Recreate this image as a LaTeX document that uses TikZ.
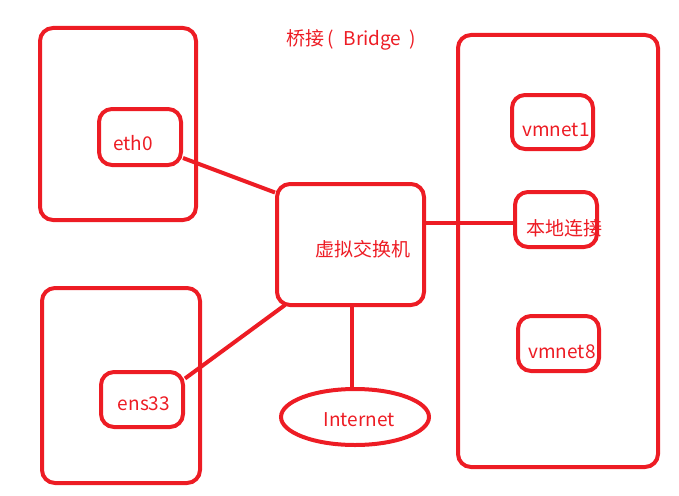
\documentclass[tikz,border=0pt]{standalone}
\usepackage{fontspec}
\newfontfamily\cjk{Noto Sans CJK SC}
\usetikzlibrary{shapes.geometric,calc}
\definecolor{pred}{RGB}{237,28,36}
\tikzset{
  box/.style={draw=pred, line width=4pt, rounded corners=13pt, inner sep=0pt},
  lbl/.style={text=pred, font=\cjk\fontsize{19}{21}\selectfont, inner sep=0pt},
  wire/.style={draw=pred, line width=4pt}
}
\begin{document}
\begin{tikzpicture}[x=1pt,y=-1pt]
\useasboundingbox (0,0) rectangle (679,495);
% outer boxes
\node[box, minimum width=156pt, minimum height=192pt] (host1) at (118,124) {};
\node[box, minimum width=158pt, minimum height=195pt] (host2) at (121,385.5) {};
\node[box, minimum width=200pt, minimum height=432pt] (vm) at (558,251) {};
% inner boxes
\node[box, minimum width=82pt, minimum height=56pt] (eth0) at (140,137) {};
\node[box, minimum width=82pt, minimum height=55pt] (ens) at (142,399.5) {};
\node[box, minimum width=147pt, minimum height=121pt] (sw) at (350.5,244.5) {};
\node[box, minimum width=81pt, minimum height=54pt] (vm1) at (552.5,122) {};
\node[box, minimum width=82pt, minimum height=55pt] (lan) at (556,219.5) {};
\node[box, minimum width=81pt, minimum height=55pt] (vm8) at (558.5,343.5) {};
\node[draw=pred, line width=4pt, ellipse, minimum width=148pt, minimum height=56pt, inner sep=0pt] (inet) at (355,417) {};
% texts
\node[lbl] (title) at (351,40) {桥接\hspace{3pt}(\hspace{10pt}Bridge\hspace{8pt})};
\node[lbl] (teth) at (133,143) {eth0};
\node[lbl] (tens) at (144,404) {ens33};
\node[lbl] (tsw) at (363,249) {虚拟交换机};
\node[lbl] (tvm1) at (556,130) {vmnet1};
\node[lbl] (tlan) at (564,228) {本地连接};
\node[lbl] (tvm8) at (562,352) {vmnet8};
\node[lbl] (tinet) at (359,420) {Internet};
% connectors
\draw[wire] ($(eth0.east)+(0,21)$) -- ($(sw.west)+(0,-52)$);
\draw[wire] ($(ens.east)+(0,-21)$) -- ($(sw.south west)+(10,-2)$);
\draw[wire] ($(sw.east)+(0,-22)$) -- ($(lan.west)+(0,3)$);
\draw[wire] ($(sw.south)+(1.5,0)$) -- ($(inet.north)+(-3,0)$);
\end{tikzpicture}
\end{document}
